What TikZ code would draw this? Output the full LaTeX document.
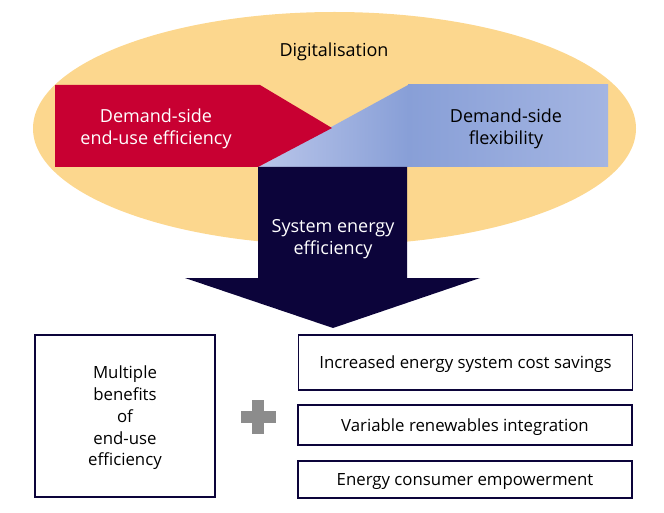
\documentclass[tikz,border=0pt]{standalone}
\usepackage{fontspec}
\setmainfont{Open Sans}
\usetikzlibrary{positioning,calc}
\definecolor{digiyellow}{RGB}{252,215,142}
\definecolor{effred}{RGB}{200,0,50}
\definecolor{flexblue}{RGB}{164,181,226}
\definecolor{flexbluedark}{RGB}{136,159,215}
\definecolor{flexbluelight}{RGB}{186,198,234}
\definecolor{sysnavy}{RGB}{12,4,58}
\definecolor{plusgrey}{RGB}{140,140,140}

\begin{document}
\begin{tikzpicture}[
    x=1pt, y=-1pt,
    txt/.style={font=\fontsize{18}{22}\selectfont, align=center, yshift=-2pt},
    benefit/.style={rectangle, draw=sysnavy, line width=1.1pt, minimum width=334pt, align=center, font=\fontsize{16.8}{21.7}\selectfont, inner sep=0pt, text depth=0pt}
]
\useasboundingbox (0,0) rectangle (664,513);

% Digitalisation ellipse
\fill[digiyellow] (334.5,128.5) ellipse [x radius=301.5pt, y radius=116.5pt];
\node[txt] (digi) at (334,50) {Digitalisation};

% Demand-side flexibility (blue)
\shade[left color=flexbluelight, right color=flexbluedark] (258,167) -- (408,85) -- (408,167) -- cycle;
\shade[left color=flexbluedark, right color=flexblue] (408,85) rectangle (608,167);
\node[txt] (flex) at (506,127) {Demand-side\\flexibility};

% Demand-side end-use efficiency (red)
\fill[effred] (55,85) -- (260,85) -- (332,128) -- (258,167) -- (55,167) -- cycle;
\node[txt, text=white] (enduse) at (156,127) {Demand-side\\end-use efficiency};

% System energy efficiency arrow
\fill[sysnavy] (258,167) -- (407,167) -- (407,278) -- (480,278) -- (333,328) -- (185,278) -- (258,278) -- cycle;
\node[txt, text=white] (system) at (333,237) {System energy\\efficiency};

% Benefits
\node[benefit, minimum width=180pt, minimum height=162pt] (multi) at (125,416) {Multiple\\benefits\\of\\end-use\\efficiency};
\fill[plusgrey] (252,400) rectangle (264,434);
\fill[plusgrey] (241,411) rectangle (276,423);

\node[benefit, minimum height=55pt] (cost) at (465.5,362.5) {Increased energy system cost savings};
\node[benefit, minimum height=40pt] (vre) at (465,425) {Variable renewables integration};
\node[benefit, minimum height=37pt] (empower) at (465,479.5) {Energy consumer empowerment};

\end{tikzpicture}
\end{document}
